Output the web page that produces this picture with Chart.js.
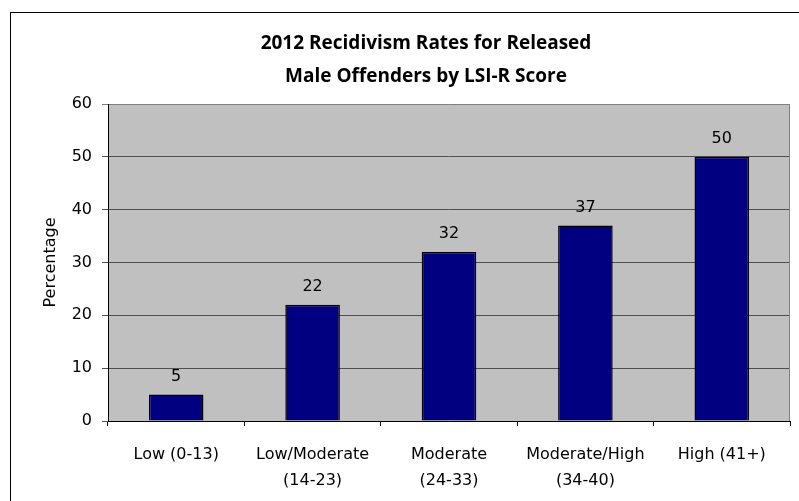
<!DOCTYPE html>
<html lang="en">
<head>
    <meta charset="UTF-8">
    <title>2012 Recidivism Rates for Released Male Offenders by LSI-R Score</title>
    <style>
        body {
            margin: 0;
            background-color: #ffffff;
            overflow: hidden;
        }
        #frame {
            position: absolute;
            left: 10px;
            top: 12px;
            width: 800px;
            height: 500px;
            border: 1px solid #000;
        }
        #wrap {
            position: absolute;
            left: 0;
            top: 0;
            width: 799px;
            height: 501px;
        }
    </style>
    <script src="https://cdn.jsdelivr.net/npm/chart.js"></script>
</head>
<body>
    <div id="frame"></div>
    <div id="wrap"><canvas id="myChart"></canvas></div>
    <script>
        // Chart data
        const titleLines = ['2012 Recidivism Rates for Released', 'Male Offenders by LSI-R Score'];
        const categories = [
            ['Low (0-13)'],
            ['Low/Moderate', '(14-23)'],
            ['Moderate', '(24-33)'],
            ['Moderate/High', '(34-40)'],
            ['High (41+)']
        ];
        const rates = [5, 22, 32, 37, 50];
        const yTicks = [0, 10, 20, 30, 40, 50, 60];
        const yLabel = 'Percentage';

        const labelFont = { family: "'DejaVu Sans', sans-serif", size: 16 };

        // Grey plot area behind the grid
        const plotBackground = {
            id: 'plotBackground',
            beforeDraw(chart) {
                const { ctx, chartArea: a } = chart;
                ctx.save();
                ctx.fillStyle = '#c0c0c0';
                ctx.fillRect(a.left, a.top, a.right - a.left, a.bottom - a.top);
                ctx.restore();
            },
            afterDraw(chart) {
                const { ctx, chartArea: a } = chart;
                ctx.save();
                ctx.strokeStyle = '#808080';
                ctx.lineWidth = 1;
                ctx.beginPath();
                ctx.moveTo(a.right - 0.5, a.top);
                ctx.lineTo(a.right - 0.5, a.bottom);
                ctx.stroke();
                ctx.restore();
            }
        };

        // Value labels above bars
        const barValues = {
            id: 'barValues',
            afterDatasetsDraw(chart) {
                const ctx = chart.ctx;
                const meta = chart.getDatasetMeta(0);
                ctx.save();
                ctx.fillStyle = '#000';
                ctx.font = "16px 'DejaVu Sans', sans-serif";
                ctx.textAlign = 'center';
                ctx.textBaseline = 'middle';
                meta.data.forEach((bar, i) => {
                    ctx.fillText(String(rates[i]), bar.x, bar.y - 18);
                });
                ctx.restore();
            }
        };

        // Two-line bold title
        const chartTitle = {
            id: 'chartTitle',
            afterDraw(chart) {
                const { ctx, chartArea: a } = chart;
                const cx = (a.left + a.right) / 2 - 23;
                ctx.save();
                ctx.fillStyle = '#000';
                ctx.font = "bold 19px 'Open Sans', sans-serif";
                ctx.textAlign = 'center';
                ctx.textBaseline = 'middle';
                ctx.fillText(titleLines[0], cx, 44);
                ctx.fillText(titleLines[1], cx, 77);
                ctx.restore();
            }
        };

        const ctx = document.getElementById('myChart').getContext('2d');
        new Chart(ctx, {
            type: 'bar',
            data: {
                labels: categories,
                datasets: [{
                    data: rates,
                    backgroundColor: '#000080',
                    borderColor: '#000000',
                    borderWidth: 1.5,
                    barPercentage: 0.4,
                    categoryPercentage: 1
                }]
            },
            options: {
                responsive: true,
                maintainAspectRatio: false,
                animation: false,
                layout: {
                    padding: { top: 104, right: 9, left: 0, bottom: 0 }
                },
                plugins: {
                    legend: { display: false },
                    tooltip: { enabled: false },
                    title: { display: false }
                },
                scales: {
                    x: {
                        grid: {
                            offset: true,
                            drawOnChartArea: false,
                            tickLength: 5,
                            color: '#000'
                        },
                        border: { color: '#000', width: 1 },
                        ticks: {
                            color: '#000',
                            font: { ...labelFont, lineHeight: 1.625 },
                            padding: 16,
                            maxRotation: 0,
                            autoSkip: false
                        },
                        afterFit(scale) { scale.height = 80; }
                    },
                    y: {
                        min: 0,
                        max: 60,
                        afterBuildTicks(scale) {
                            scale.ticks = yTicks.map(v => ({ value: v }));
                        },
                        grid: {
                            tickLength: 6,
                            color: c => (c.tick && c.tick.value === 60) ? '#808080' : '#505050'
                        },
                        border: { color: '#000', width: 1 },
                        ticks: {
                            color: '#000',
                            font: labelFont,
                            padding: 10
                        },
                        title: {
                            display: true,
                            text: yLabel,
                            color: '#000',
                            font: labelFont,
                            padding: { top: 41, bottom: 0 }
                        },
                        afterFit(scale) { scale.width = 108; }
                    }
                }
            },
            plugins: [plotBackground, barValues, chartTitle]
        });
    </script>
</body>
</html>
